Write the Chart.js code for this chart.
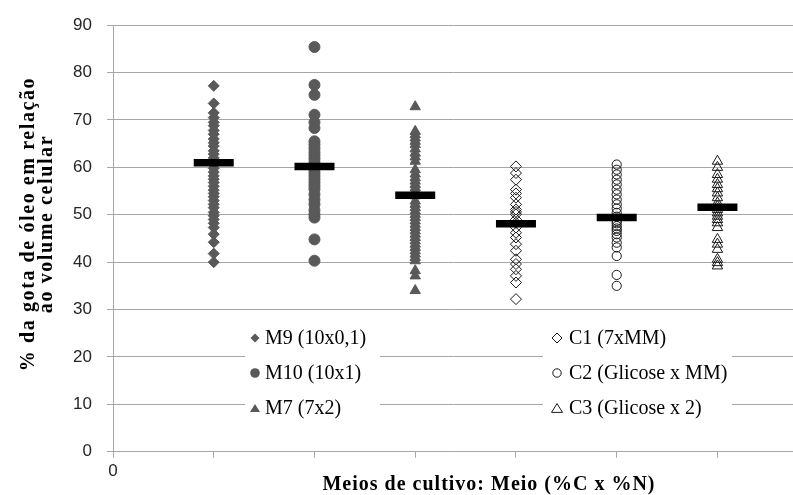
<!DOCTYPE html>
<html><head><meta charset="utf-8">
<script src="https://cdn.jsdelivr.net/npm/chart.js@4.4.0/dist/chart.umd.min.js"></script>
<style>html,body{margin:0;padding:0;background:#fff}canvas{display:block}</style>
</head><body>
<canvas id="c" width="793" height="495"></canvas>
<script>
// ---------- data ----------
const categories = ['M9 (10x0,1)', 'M10 (10x1)', 'M7 (7x2)', 'C1 (7xMM)', 'C2 (Glicose x MM)', 'C3 (Glicose x 2)'];
const categoryX = [1, 2, 3, 4, 5, 6];
const m9 = [77.2, 73.5, 71.5, 70.5, 69.5, 68.8, 67.8, 67.0, 66.0, 65.2, 64.5, 63.5, 62.8, 62.0, 61.5, 60.5, 59.8, 59.0, 58.2, 57.5, 56.8, 56.0, 55.2, 54.5, 53.8, 53.0, 52.2, 51.5, 50.5, 49.8, 49.0, 48.2, 47.3, 45.9, 44.2, 41.8, 40.0];
const m10 = [85.4, 77.4, 75.3, 71.1, 69.5, 68.3, 65.5, 64.8, 64.0, 63.2, 62.5, 61.8, 61.0, 60.3, 59.6, 58.9, 58.2, 57.5, 56.8, 56.1, 55.4, 54.3, 53.2, 52.2, 51.0, 50.1, 49.4, 44.8, 40.3];
const m7 = [72.8, 67.6, 66.9, 66.2, 65.5, 64.8, 63.9, 63.0, 62.2, 61.3, 59.5, 58.6, 57.8, 57.1, 56.4, 55.7, 55.0, 54.0, 52.9, 52.2, 51.5, 50.8, 50.1, 49.4, 48.7, 48.0, 47.3, 46.6, 45.9, 45.2, 44.5, 43.8, 43.1, 42.4, 41.7, 41.0, 40.3, 38.2, 37.1, 34.0];
const c1 = [60.2, 58.8, 57.4, 55.3, 54.5, 53.6, 52.2, 51.1, 50.6, 50.1, 49.0, 48.3, 47.3, 46.2, 45.2, 43.8, 42.4, 40.6, 39.6, 38.5, 37.1, 35.7, 32.2];
const c2 = [60.6, 59.5, 58.5, 57.4, 56.4, 55.3, 54.3, 53.2, 52.2, 51.3, 50.4, 49.6, 48.7, 48.2, 47.6, 47.1, 46.6, 45.9, 45.2, 44.1, 43.1, 41.3, 37.3, 35.0];
const c3 = [61.3, 60.0, 58.5, 57.5, 56.4, 55.5, 54.6, 53.6, 52.5, 51.8, 51.1, 50.4, 49.7, 49.0, 48.3, 47.3, 44.8, 43.8, 42.7, 40.6, 39.9, 39.2];
const means = [61.0, 60.2, 54.1, 48.1, 49.4, 51.6];
const yTicks = [0, 10, 20, 30, 40, 50, 60, 70, 80, 90];
const xTicks = [0, 1, 2, 3, 4, 5, 6];
const xTickLabels = ['0', '', '', '', '', '', ''];
const yTitle = ['% da gota de óleo em relação', 'ao volume celular'];
const xTitle = 'Meios de cultivo: Meio (%C x %N)';
const X_MIN = 0, X_MAX = 6.75, Y_MIN = 0, Y_MAX = 90;

// ---------- styles ----------
const seriesValues = [m9, m10, m7, c1, c2, c3];
const FILL = '#595959';
const OPEN = '#1a1a1a';
const styles = [
  {shape: 'rectRot', r: 5.5, filled: true},
  {shape: 'circle', r: 5.5, filled: true},
  {shape: 'triangle', r: 6, filled: true},
  {shape: 'rectRot', r: 5.5, filled: false},
  {shape: 'circle', r: 4.6, filled: false},
  {shape: 'triangle', r: 6, filled: false}
];

const datasets = seriesValues.map((vals, i) => ({
  label: categories[i],
  data: vals.map(v => ({x: categoryX[i], y: v})),
  pointStyle: styles[i].shape,
  pointRadius: styles[i].r,
  pointBackgroundColor: styles[i].filled ? FILL : 'rgba(0,0,0,0)',
  pointBorderColor: styles[i].filled ? FILL : OPEN,
  pointBorderWidth: 1,
  showLine: false,
  order: 1
}));
datasets.push({
  label: 'média',
  data: means.map((v, i) => ({x: categoryX[i], y: v})),
  pointStyle: 'line',
  pointRadius: 20,
  pointBorderWidth: 7.5,
  pointBorderColor: '#000',
  pointBackgroundColor: '#000',
  showLine: false,
  order: 0
});

const GRID = '#a6a6a6';

function drawMarker(ctx, shape, x, y, r, filled) {
  ctx.beginPath();
  if (shape === 'circle') {
    ctx.arc(x, y, r, 0, Math.PI * 2);
  } else if (shape === 'rectRot') {
    ctx.moveTo(x, y - r); ctx.lineTo(x + r, y); ctx.lineTo(x, y + r); ctx.lineTo(x - r, y); ctx.closePath();
  } else {
    const h = r * 1.6;
    ctx.moveTo(x, y - h / 2); ctx.lineTo(x + r, y + h / 2); ctx.lineTo(x - r, y + h / 2); ctx.closePath();
  }
  if (filled) { ctx.fillStyle = FILL; ctx.fill(); }
  else { ctx.strokeStyle = OPEN; ctx.lineWidth = 1; ctx.stroke(); }
}

const overlay = {
  id: 'overlay',
  beforeDatasetsDraw(chart) {
    const ctx = chart.ctx;
    ctx.save();
    ctx.fillStyle = '#fff';
    ctx.fillRect(245, 318, 135, 102);
    ctx.fillRect(543, 318, 189, 102);
    const rows = [338, 373, 408];
    const cols = [{mx: 255, tx: 265}, {mx: 557, tx: 569}];
    const legendR = [4.5, 4.8, 5, 5, 4.2, 5.5];
    categories.forEach((name, i) => {
      const col = cols[Math.floor(i / 3)];
      const y = rows[i % 3];
      drawMarker(ctx, styles[i].shape, col.mx, y, legendR[i], styles[i].filled);
      ctx.fillStyle = '#000';
      ctx.font = '20px "Liberation Serif"';
      ctx.textAlign = 'left';
      ctx.textBaseline = 'middle';
      ctx.fillText(name, col.tx, y + 1);
    });
    ctx.restore();
  },
  afterDraw(chart) {
    const ctx = chart.ctx;
    ctx.save();
    ctx.fillStyle = '#000';
    ctx.font = 'bold 20px "Liberation Serif"';
    ctx.textAlign = 'center';
    ctx.textBaseline = 'middle';
    ctx.letterSpacing = '1.6px';
    ctx.translate(29, 224);
    ctx.rotate(-Math.PI / 2);
    ctx.fillText(yTitle[0], 0, 0);
    ctx.fillText(yTitle[1], 0, 18);
    ctx.restore();
    ctx.save();
    ctx.fillStyle = '#000';
    ctx.font = 'bold 20px "Liberation Serif"';
    ctx.textAlign = 'center';
    ctx.textBaseline = 'middle';
    ctx.letterSpacing = '1px';
    ctx.fillText(xTitle, 489, 485);
    ctx.restore();
  }
};

new Chart(document.getElementById('c'), {
  type: 'scatter',
  data: {datasets},
  options: {
    responsive: false,
    animation: false,
    devicePixelRatio: 1,
    layout: {autoPadding: false, padding: {top: 23, left: 0, right: 0, bottom: 0}},
    plugins: {legend: {display: false}, tooltip: {enabled: false}},
    scales: {
      x: {
        type: 'linear', min: X_MIN, max: X_MAX, bounds: 'data',
        afterBuildTicks: s => { s.ticks = xTicks.map(v => ({value: v})); s.min = X_MIN; s.max = X_MAX; },
        afterFit: s => { s.height = 43.3; },
        grid: {drawOnChartArea: false, drawTicks: true, tickLength: 6, color: GRID, lineWidth: 1},
        border: {display: true, color: GRID, width: 1},
        ticks: {
          font: {family: '"Liberation Sans"', size: 17},
          color: '#262626', padding: 3, maxRotation: 0, autoSkip: false,
          callback: (v, i) => xTickLabels[i]
        }
      },
      y: {
        min: Y_MIN, max: Y_MAX,
        afterBuildTicks: s => { s.ticks = yTicks.map(v => ({value: v})); s.min = Y_MIN; s.max = Y_MAX; },
        afterFit: s => { s.width = 113; },
        grid: {drawOnChartArea: true, drawTicks: true, tickLength: 6, color: GRID, lineWidth: 1},
        border: {display: true, color: GRID, width: 1},
        ticks: {
          font: {family: '"Liberation Sans"', size: 17},
          color: '#262626', padding: 15,
          callback: v => String(v)
        }
      }
    }
  },
  plugins: [overlay]
});
</script>
</body></html>
